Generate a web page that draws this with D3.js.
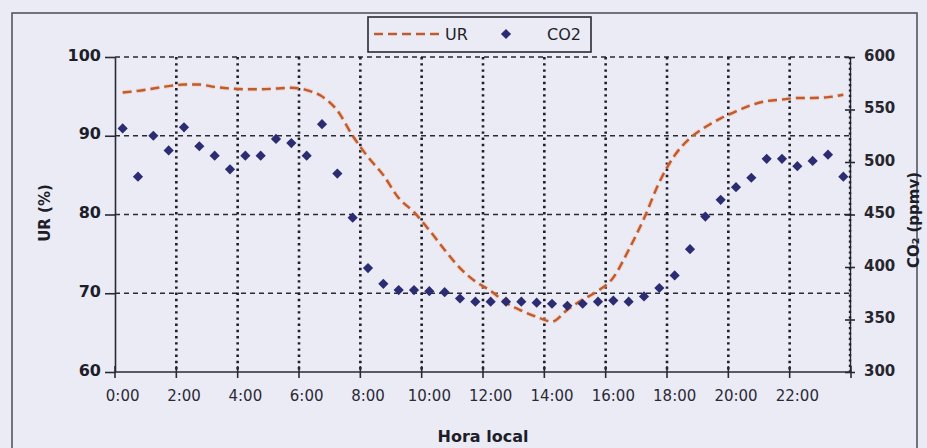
<!DOCTYPE html>
<html>
<head>
<meta charset="utf-8">
<script src="https://cdn.jsdelivr.net/npm/d3@7"></script>
<style>
  html, body { margin: 0; padding: 0; background: #ebebf6; }
  svg { display: block; }
  text { font-family: "DejaVu Sans", sans-serif; fill: #1e1e28; }
</style>
</head>
<body>
<svg id="chart" width="927" height="448"></svg>
<script>
// Half-hourly categories over the day
const times = [
  "0:00","0:30","1:00","1:30","2:00","2:30","3:00","3:30",
  "4:00","4:30","5:00","5:30","6:00","6:30","7:00","7:30",
  "8:00","8:30","9:00","9:30","10:00","10:30","11:00","11:30",
  "12:00","12:30","13:00","13:30","14:00","14:30","15:00","15:30",
  "16:00","16:30","17:00","17:30","18:00","18:30","19:00","19:30",
  "20:00","20:30","21:00","21:30","22:00","22:30","23:00","23:30"
];

// Relative humidity, UR (%)
const urValues = [
  95.5, 95.7, 96.0, 96.3, 96.5, 96.5, 96.2, 96.0,
  95.9, 95.9, 96.0, 96.1, 95.8, 95.0, 93.2, 90.0,
  87.3, 85.0, 82.1, 80.3, 78.0, 75.5, 73.2, 71.5,
  70.3, 68.8, 67.8, 67.0, 66.4, 67.9, 69.2, 70.3,
  72.0, 75.5, 79.5, 84.1, 87.5, 89.7, 91.1, 92.2,
  93.1, 93.9, 94.4, 94.6, 94.8, 94.8, 94.9, 95.2
];

// CO2 concentration (ppmv)
const co2Values = [
  532, 486, 525, 511, 533, 515, 506, 493,
  506, 506, 522, 518, 506, 536, 489, 447,
  399, 384, 378, 378, 377, 376, 370, 367,
  367, 367, 367, 366, 365, 363, 365, 367,
  368, 367, 372, 380, 392, 417, 448, 464,
  476, 485, 503, 503, 496, 501, 507, 486
];

const xTickLabels = ["0:00","2:00","4:00","6:00","8:00","10:00","12:00","14:00","16:00","18:00","20:00","22:00"];
const urTicks = [60, 70, 80, 90, 100];
const urGrid = [70, 80, 90, 100];
const co2Ticks = [300, 350, 400, 450, 500, 550, 600];

const svg = d3.select("#chart");
const plotLeft = 115, plotRight = 851, plotTop = 57, plotBottom = 372;

const x = d3.scaleBand().domain(times).range([plotLeft, plotRight]).padding(0);
const bw = x.bandwidth();
const yL = d3.scaleLinear().domain([60, 100]).range([plotBottom, plotTop]);
const yR = d3.scaleLinear().domain([300, 600]).range([plotBottom, plotTop]);

// Outer frame
svg.append("rect")
  .attr("x", 12).attr("y", 13).attr("width", 905).attr("height", 445)
  .attr("fill", "none").attr("stroke", "#555560").attr("stroke-width", 1.6);

// Category boundaries every two hours
const tickX = xTickLabels.map(t => x(t)).concat([x.range()[1]]);

// Horizontal dashed grid
svg.append("g").selectAll("line").data(urGrid).join("line")
  .attr("x1", plotLeft).attr("x2", plotRight)
  .attr("y1", d => yL(d)).attr("y2", d => yL(d))
  .attr("stroke", "#2a2a35").attr("stroke-width", 1.6)
  .attr("stroke-dasharray", "5,4");

// Vertical dotted grid
svg.append("g").selectAll("line").data(tickX.slice(1, -1)).join("line")
  .attr("x1", d => d).attr("x2", d => d)
  .attr("y1", plotTop).attr("y2", plotBottom)
  .attr("stroke", "#1e1e28").attr("stroke-width", 2.6)
  .attr("stroke-dasharray", "2.4,3.8");

// Left axis
const axL = svg.append("g").attr("transform", `translate(${plotLeft},0)`)
  .call(d3.axisLeft(yL).tickValues(urTicks).tickSizeInner(10).tickSizeOuter(0).tickPadding(4));
axL.select(".domain").attr("stroke", "#2a2a35").attr("stroke-width", 1.6);
axL.selectAll(".tick line").attr("stroke", "#2a2a35").attr("stroke-width", 1.6);
axL.selectAll(".tick text")
  .attr("dy", "0.2em")
  .style("font-family", "'DejaVu Sans', sans-serif")
  .style("font-size", "16px").style("font-weight", "bold").style("fill", "#1e1e28");

// Right axis
const axR = svg.append("g").attr("transform", `translate(${plotRight - 1},0)`)
  .call(d3.axisRight(yR).tickValues(co2Ticks).tickSizeInner(5).tickSizeOuter(0).tickPadding(9));
axR.select(".domain").attr("stroke", "#2a2a35").attr("stroke-width", 1.4);
axR.selectAll(".tick line").attr("x1", -5).attr("stroke", "#2a2a35").attr("stroke-width", 1.6);
axR.selectAll(".tick text")
  .attr("dy", "0.2em")
  .style("font-family", "'DejaVu Sans', sans-serif")
  .style("font-size", "15px").style("font-weight", "bold").style("fill", "#26262f");
axR.append("line")
  .attr("x1", 0).attr("x2", 0).attr("y1", plotTop).attr("y2", plotBottom)
  .attr("stroke", "#1e1e28").attr("stroke-width", 2.4).attr("stroke-dasharray", "2.2,3.2");

// Bottom axis
const axB = svg.append("g");
axB.append("line")
  .attr("x1", plotLeft).attr("x2", plotRight).attr("y1", plotBottom).attr("y2", plotBottom)
  .attr("stroke", "#2a2a35").attr("stroke-width", 1.6);
axB.selectAll("line.tick").data(tickX).join("line").attr("class", "tick")
  .attr("x1", d => d).attr("x2", d => d)
  .attr("y1", plotBottom - 6).attr("y2", plotBottom + 6)
  .attr("stroke", "#2a2a35").attr("stroke-width", 1.6);
axB.selectAll("text").data(xTickLabels).join("text")
  .attr("x", d => x(d) + bw / 2).attr("y", 401)
  .attr("text-anchor", "middle")
  .style("font-size", "15px").style("fill", "#2a2a35")
  .text(d => d);

// Axis titles
svg.append("text")
  .attr("transform", "translate(50,213) rotate(-90)")
  .attr("text-anchor", "middle")
  .style("font-size", "15px").style("font-weight", "bold")
  .text("UR (%)");
svg.append("text")
  .attr("transform", "translate(919,220) rotate(-90)")
  .attr("text-anchor", "middle")
  .style("font-size", "15px").style("font-weight", "bold")
  .text("CO₂ (ppmv)");
svg.append("text")
  .attr("x", (plotLeft + plotRight) / 2).attr("y", 442)
  .attr("text-anchor", "middle")
  .style("font-size", "16px").style("font-weight", "bold")
  .text("Hora local");

// UR dashed curve
const urData = times.map((t, i) => ({ t, v: urValues[i] }));
const urLine = d3.line()
  .x(d => x(d.t) + bw / 2)
  .y(d => yL(d.v))
  .curve(d3.curveMonotoneX);
svg.append("path").datum(urData)
  .attr("d", urLine)
  .attr("fill", "none")
  .attr("stroke", "#f3b48c").attr("stroke-width", 4.5).attr("stroke-opacity", 0.45)
  .attr("stroke-dasharray", "9,5");
svg.append("path").datum(urData)
  .attr("d", urLine)
  .attr("fill", "none")
  .attr("stroke", "#bf5b2e").attr("stroke-width", 2.4)
  .attr("stroke-dasharray", "9,5");

// CO2 diamonds
const diamond = d3.symbol().type(d3.symbolSquare).size(52);
const co2Data = times.map((t, i) => ({ t, v: co2Values[i] }));
svg.append("g").selectAll("path").data(co2Data).join("path")
  .attr("d", diamond)
  .attr("transform", d => `translate(${x(d.t) + bw / 2},${yR(d.v)}) rotate(45)`)
  .attr("fill", "#2c2c72");

// Legend
const lg = svg.append("g");
lg.append("rect")
  .attr("x", 368).attr("y", 17).attr("width", 223).attr("height", 35)
  .attr("fill", "#ebebf6").attr("stroke", "#2a2a35").attr("stroke-width", 1.6);
lg.append("line")
  .attr("x1", 374).attr("x2", 442).attr("y1", 34).attr("y2", 34)
  .attr("stroke", "#bf5b2e").attr("stroke-width", 2.4).attr("stroke-dasharray", "9,5");
lg.append("text").attr("x", 445).attr("y", 40)
  .style("font-size", "16px").text("UR");
lg.append("path").attr("d", diamond)
  .attr("transform", "translate(506,34) rotate(45)")
  .attr("fill", "#2c2c72");
lg.append("text").attr("x", 547).attr("y", 40)
  .style("font-size", "16px").text("CO2");
</script>
</body>
</html>
